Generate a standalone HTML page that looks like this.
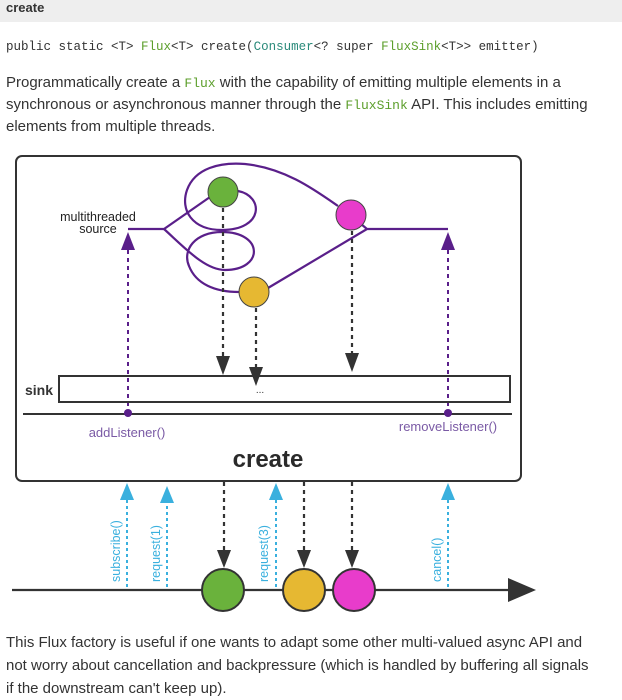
<!DOCTYPE html>
<html><head><meta charset="utf-8"><style>
body{margin:0;width:622px;height:696px;background:#fff;overflow:hidden;font-family:"Liberation Sans",sans-serif;color:#333}
.hd{position:absolute;left:0;top:0;width:622px;height:22px;background:#eee}
.t{position:absolute;white-space:nowrap}
.g{color:#5b9e2a}
.m{font-family:"Liberation Mono",monospace}
</style></head><body>
<div class="hd"></div>
<div class="t" style="left:6px;top:0px;font-size:13px;line-height:16px;font-weight:bold;color:#333">create</div>
<div class="t m" style="left:6px;top:39px;font-size:12.5px;line-height:16px;color:#333">public static &lt;T&gt; <span class="g">Flux</span>&lt;T&gt; create(<span style="color:#2a8a7a">Consumer</span>&lt;? super <span class="g">FluxSink</span>&lt;T&gt;&gt; emitter)</div>
<div class="t" style="left:6px;top:72px;font-size:15px;line-height:21px;color:#333">Programmatically create a <span class="g m" style="font-size:13px">Flux</span> with the capability of emitting multiple elements in a<br>synchronous or asynchronous manner through the <span class="g m" style="font-size:13px">FluxSink</span> API. This includes emitting<br>elements from multiple threads.</div>
<svg style="position:absolute;left:0;top:0" width="622" height="696">
<rect x="16" y="156" width="505" height="325" rx="6" fill="#fff" stroke="#333" stroke-width="2"/>
<g fill="none" stroke="#5a1f8a" stroke-width="2.2">
<path d="M128,229 L164,229 L210,197"/>
<path d="M238,191 C264,196 264,230 222,230 C192,230 180,210 187,190 C195,168 220,162 245,164 C285,168 315,190 338,206"/>
<path d="M164,229 C185,248 205,270 225,270 C264,270 264,232 222,232 C195,232 182,250 189,266 C196,284 215,292 239,292"/>
<path d="M268,288 L367,229 L448,229 M361,224 L367,229"/>
</g>
<circle cx="223" cy="192" r="15" fill="#6ab23c" stroke="#444" stroke-width="1"/>
<circle cx="351" cy="215" r="15" fill="#e83ccb" stroke="#444" stroke-width="1"/>
<circle cx="254" cy="292" r="15" fill="#e6b832" stroke="#444" stroke-width="1"/>
<text x="98" y="221" font-size="12.5" text-anchor="middle" fill="#222">multithreaded</text>
<text x="98" y="233" font-size="12.5" text-anchor="middle" fill="#222">source</text>
<g stroke="#5a1f8a" stroke-width="2" stroke-dasharray="4,4">
<line x1="128" y1="250" x2="128" y2="413"/><line x1="448" y1="250" x2="448" y2="413"/>
</g>
<g fill="#5a1f8a"><polygon points="128,232 121,250 135,250"/><polygon points="448,232 441,250 455,250"/></g>
<g stroke="#333" stroke-width="2.2" stroke-dasharray="4,4">
<line x1="223" y1="208" x2="223" y2="356"/><line x1="256" y1="308" x2="256" y2="367"/><line x1="352" y1="231" x2="352" y2="353"/>
</g>
<g fill="#333"><polygon points="223,375 216,356 230,356"/><polygon points="256,386 249,367 263,367"/><polygon points="352,372 345,353 359,353"/></g>
<rect x="59" y="376" width="451" height="26" fill="none" stroke="#333" stroke-width="2"/>
<text x="260" y="393" font-size="10" text-anchor="middle" fill="#333">...</text>
<text x="25" y="395" font-size="14" font-weight="bold" fill="#333">sink</text>
<line x1="23" y1="414" x2="512" y2="414" stroke="#333" stroke-width="2"/>
<circle cx="128" cy="413" r="4" fill="#5a1f8a"/><circle cx="448" cy="413" r="4" fill="#5a1f8a"/>
<text x="127" y="437" font-size="13" text-anchor="middle" fill="#7a5aa5">addListener()</text>
<text x="448" y="431" font-size="13" text-anchor="middle" fill="#7a5aa5">removeListener()</text>
<text x="268" y="467" font-size="24" font-weight="bold" text-anchor="middle" fill="#2a2a2a">create</text>
<g stroke="#3ab0de" stroke-width="2" stroke-dasharray="3,3">
<line x1="127" y1="500" x2="127" y2="588"/><line x1="167" y1="500" x2="167" y2="588"/><line x1="276" y1="500" x2="276" y2="588"/><line x1="448" y1="500" x2="448" y2="588"/>
</g>
<g fill="#3ab0de"><polygon points="127,483 120,500 134,500"/><polygon points="167,486 160,503 174,503"/><polygon points="276,483 269,500 283,500"/><polygon points="448,483 441,500 455,500"/></g>
<g font-size="12.5" fill="#3ab0de">
<text transform="translate(120,582) rotate(-90)">subscribe()</text>
<text transform="translate(160,582) rotate(-90)">request(1)</text>
<text transform="translate(268,582) rotate(-90)">request(3)</text>
<text transform="translate(441,582) rotate(-90)">cancel()</text>
</g>
<g stroke="#333" stroke-width="2.2" stroke-dasharray="4,4">
<line x1="224" y1="482" x2="224" y2="550"/><line x1="304" y1="482" x2="304" y2="550"/><line x1="352" y1="482" x2="352" y2="550"/>
</g>
<g fill="#333"><polygon points="224,568 217,550 231,550"/><polygon points="304,568 297,550 311,550"/><polygon points="352,568 345,550 359,550"/></g>
<line x1="12" y1="590" x2="512" y2="590" stroke="#333" stroke-width="2.2"/>
<polygon points="508,578 536,590 508,602" fill="#333"/>
<circle cx="223" cy="590" r="21" fill="#6ab23c" stroke="#333" stroke-width="2"/>
<circle cx="304" cy="590" r="21" fill="#e6b832" stroke="#333" stroke-width="2"/>
<circle cx="354" cy="590" r="21" fill="#e83ccb" stroke="#333" stroke-width="2"/>
</svg>
<div class="t" style="left:6px;top:631px;font-size:15px;line-height:23px;color:#333">This Flux factory is useful if one wants to adapt some other multi-valued async API and<br>not worry about cancellation and backpressure (which is handled by buffering all signals<br>if the downstream can't keep up).</div>
</body></html>
